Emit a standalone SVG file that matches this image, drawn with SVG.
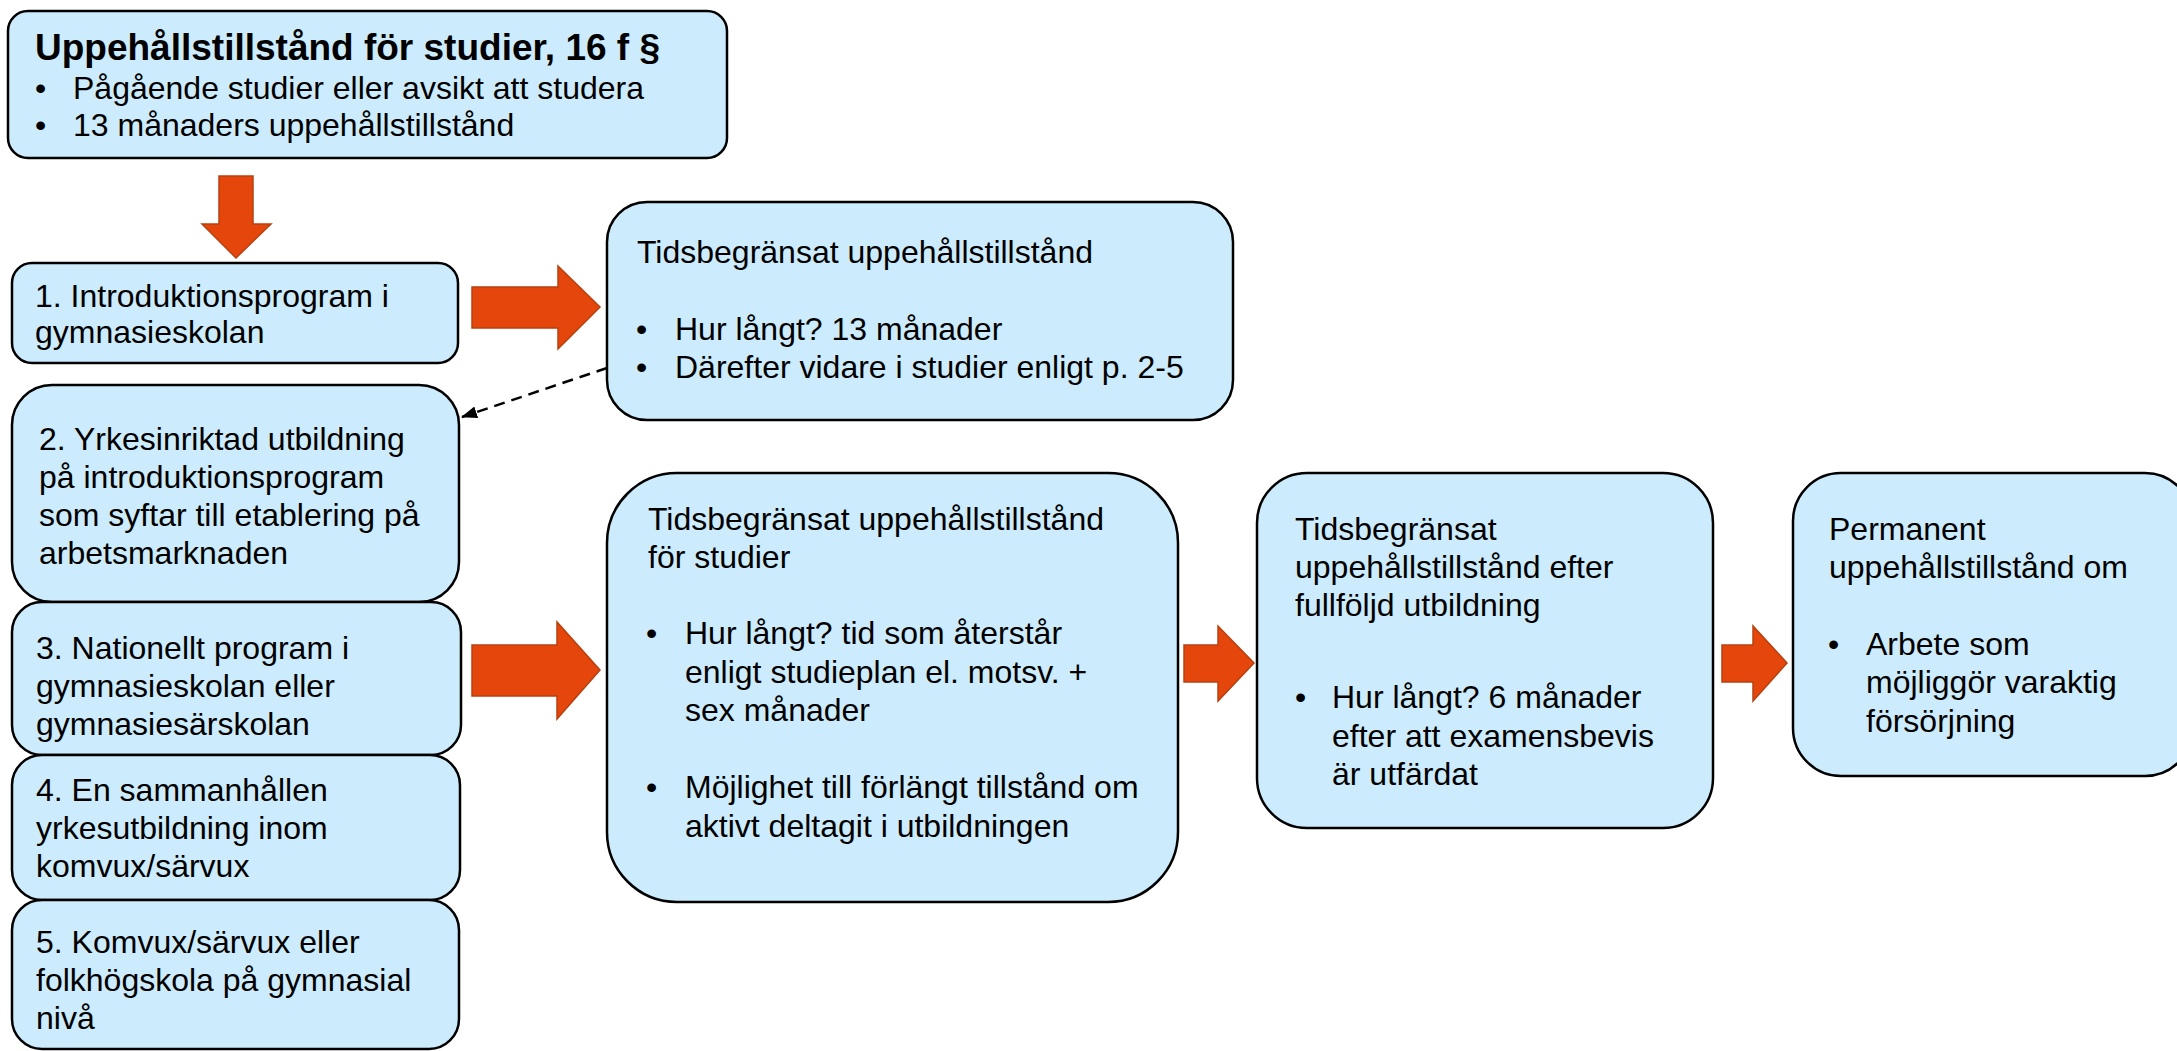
<svg xmlns="http://www.w3.org/2000/svg" width="2177" height="1051" viewBox="0 0 2177 1051">
<defs>
<style>
.box{fill:#CCEBFD;stroke:#000;stroke-width:2.5}
.t{font-family:"Liberation Sans",Arial,sans-serif;font-size:32px;fill:#000}
.title{font-family:"Liberation Sans",Arial,sans-serif;font-size:37px;font-weight:bold;fill:#000}
.arr{fill:#E4460C;stroke:#B8400F;stroke-width:1.5}
.dash{fill:none;stroke:#000;stroke-width:2.5;stroke-dasharray:11 7}
</style>
<marker id="ah" viewBox="0 0 16 12" refX="15" refY="6" markerWidth="16" markerHeight="12" markerUnits="userSpaceOnUse" orient="auto">
<path d="M0,0 L16,6 L0,12 z" fill="#000"/>
</marker>
</defs>
<rect width="2177" height="1051" fill="#fff"/>

<g id="node-main">
<rect class="box" x="8" y="11" width="719" height="147" rx="20"/>
<text class="title" x="35" y="60">Uppehållstillstånd för studier, 16 f §</text>
<text class="t" x="35" y="99">•</text>
<text class="t" x="73" y="99">Pågående studier eller avsikt att studera</text>
<text class="t" x="35" y="136">•</text>
<text class="t" x="73" y="136">13 månaders uppehållstillstånd</text>
</g>

<g id="node-1">
<rect class="box" x="12" y="263" width="446" height="100" rx="20"/>
<text class="t" x="35" y="307">1. Introduktionsprogram i</text>
<text class="t" x="35" y="343">gymnasieskolan</text>
</g>

<g id="node-t1">
<rect class="box" x="607" y="202" width="626" height="218" rx="40"/>
<text class="t" x="637" y="263">Tidsbegränsat uppehållstillstånd</text>
<text class="t" x="636" y="340">•</text>
<text class="t" x="675" y="340">Hur långt? 13 månader</text>
<text class="t" x="636" y="378">•</text>
<text class="t" x="675" y="378">Därefter vidare i studier enligt p. 2-5</text>
</g>

<g id="node-2">
<rect class="box" x="12" y="385" width="447" height="217" rx="40"/>
<text class="t" x="39" y="450">2. Yrkesinriktad utbildning</text>
<text class="t" x="39" y="488">på introduktionsprogram</text>
<text class="t" x="39" y="526">som syftar till etablering på</text>
<text class="t" x="39" y="564">arbetsmarknaden</text>
</g>

<g id="node-3">
<rect class="box" x="12" y="602" width="449" height="153" rx="30"/>
<text class="t" x="36" y="659">3. Nationellt program i</text>
<text class="t" x="36" y="697">gymnasieskolan eller</text>
<text class="t" x="36" y="735">gymnasiesärskolan</text>
</g>

<g id="node-4">
<rect class="box" x="12" y="755" width="448" height="145" rx="30"/>
<text class="t" x="36" y="801">4. En sammanhållen</text>
<text class="t" x="36" y="839">yrkesutbildning inom</text>
<text class="t" x="36" y="877">komvux/särvux</text>
</g>

<g id="node-5">
<rect class="box" x="12" y="900" width="447" height="149" rx="30"/>
<text class="t" x="36" y="953">5. Komvux/särvux eller</text>
<text class="t" x="36" y="991">folkhögskola på gymnasial</text>
<text class="t" x="36" y="1029">nivå</text>
</g>

<g id="node-t2">
<rect class="box" x="607" y="473" width="571" height="429" rx="70"/>
<text class="t" x="648" y="530">Tidsbegränsat uppehållstillstånd</text>
<text class="t" x="648" y="568">för studier</text>
<text class="t" x="646" y="644">•</text>
<text class="t" x="685" y="644">Hur långt? tid som återstår</text>
<text class="t" x="685" y="683">enligt studieplan el. motsv. +</text>
<text class="t" x="685" y="721">sex månader</text>
<text class="t" x="646" y="798">•</text>
<text class="t" x="685" y="798">Möjlighet till förlängt tillstånd om</text>
<text class="t" x="685" y="837">aktivt deltagit i utbildningen</text>
</g>

<g id="node-t3">
<rect class="box" x="1257" y="473" width="456" height="355" rx="50"/>
<text class="t" x="1295" y="540">Tidsbegränsat</text>
<text class="t" x="1295" y="578">uppehållstillstånd efter</text>
<text class="t" x="1295" y="616">fullföljd utbildning</text>
<text class="t" x="1295" y="708">•</text>
<text class="t" x="1332" y="708">Hur långt? 6 månader</text>
<text class="t" x="1332" y="747">efter att examensbevis</text>
<text class="t" x="1332" y="785">är utfärdat</text>
</g>

<g id="node-p">
<rect class="box" x="1793" y="473" width="400" height="303" rx="48"/>
<text class="t" x="1829" y="540">Permanent</text>
<text class="t" x="1829" y="578">uppehållstillstånd om</text>
<text class="t" x="1828" y="655">•</text>
<text class="t" x="1866" y="655">Arbete som</text>
<text class="t" x="1866" y="693">möjliggör varaktig</text>
<text class="t" x="1866" y="732">försörjning</text>
</g>

<g id="connectors">
<polygon class="arr" points="219,176 253,176 253,224 271,224 236,258 202,224 219,224"/>
<polygon class="arr" points="472,287 558,287 558,266 600,307 558,349 558,328 472,328"/>
<polygon class="arr" points="472,645 557,645 557,622 600,670 557,719 557,696 472,696"/>
<polygon class="arr" points="1184,645 1218,645 1218,626 1254,663 1218,701 1218,682 1184,682"/>
<polygon class="arr" points="1722,645 1753,645 1753,626 1787,663 1753,701 1753,682 1722,682"/>
<path class="dash" d="M607,368 L462,417" marker-end="url(#ah)"/>
</g>
</svg>
